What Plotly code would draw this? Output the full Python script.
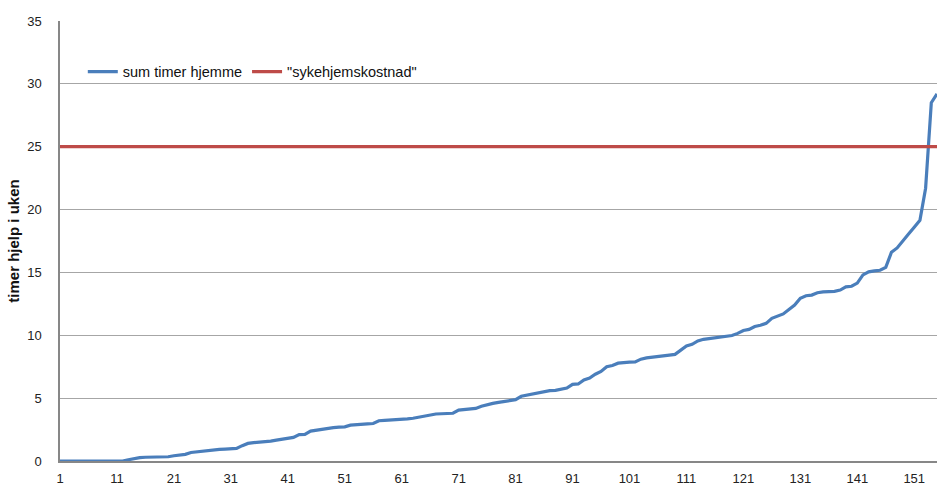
import plotly.graph_objects as go

# ---- data ----
person_index = list(range(1, 156))
sum_timer_hjemme = [
    0, 0, 0, 0, 0, 0, 0, 0, 0, 0,
    0, 0, 0.1, 0.2, 0.27, 0.3, 0.31, 0.32, 0.33, 0.34,
    0.42, 0.48, 0.53, 0.68, 0.74, 0.77, 0.84, 0.9, 0.92, 0.95,
    0.98, 1.0, 1.22, 1.4, 1.46, 1.48, 1.52, 1.58, 1.66, 1.75,
    1.83, 1.88, 2.1, 2.12, 2.38, 2.45, 2.52, 2.62, 2.66, 2.69,
    2.72, 2.85, 2.9, 2.93, 2.96, 2.98, 3.2, 3.23, 3.25, 3.28,
    3.31, 3.35, 3.4, 3.5, 3.6, 3.7, 3.74, 3.76, 3.78, 3.8,
    4.05, 4.1, 4.13, 4.18, 4.35, 4.48, 4.58, 4.66, 4.75, 4.82,
    4.88, 5.15, 5.25, 5.32, 5.4, 5.55, 5.6, 5.62, 5.7, 5.8,
    6.1, 6.13, 6.45, 6.6, 6.9, 7.12, 7.5, 7.6, 7.78, 7.84,
    7.86, 7.88, 8.1, 8.2, 8.27, 8.33, 8.38, 8.42, 8.48, 8.85,
    9.15, 9.28, 9.55, 9.68, 9.74, 9.77, 9.8, 9.9, 9.98, 10.15,
    10.38, 10.47, 10.7, 10.8, 10.95, 11.35, 11.55, 11.7, 12.05, 12.4,
    12.95, 13.15, 13.2, 13.38, 13.45, 13.47, 13.5, 13.6, 13.85, 13.9,
    14.15, 14.8, 15.05, 15.12, 15.17, 15.4, 16.6, 16.95, 17.55, 18.05,
    18.6, 19.15, 21.7, 28.5, 29.2,
]
sykehjemskostnad_level = 25
sykehjemskostnad = [sykehjemskostnad_level] * len(person_index)
x_tickvals = list(range(1, 156, 10))
y_tickvals = [0, 5, 10, 15, 20, 25, 30, 35]

FONT = "Liberation Sans, Arial, sans-serif"

fig = go.Figure()
fig.add_trace(go.Scatter(
    x=person_index, y=sum_timer_hjemme, mode="lines",
    name="sum timer hjemme",
    line=dict(color="#4A7EBB", width=3.2),
))
fig.add_trace(go.Scatter(
    x=person_index, y=sykehjemskostnad, mode="lines",
    name='"sykehjemskostnad"',
    line=dict(color="#BE4B48", width=3.2),
))

fig.update_layout(
    width=937, height=486,
    margin=dict(l=60, r=0, t=21, b=25, autoexpand=False),
    paper_bgcolor="white", plot_bgcolor="white",
    font=dict(family=FONT, size=13, color="#222"),
    showlegend=True,
    legend=dict(
        orientation="h", x=0.026, y=0.885, xanchor="left", yanchor="middle",
        bgcolor="rgba(0,0,0,0)", font=dict(size=14.5, color="#111"),
        itemwidth=30, tracegroupgap=0,
    ),
    xaxis=dict(
        range=[1, 155], tickmode="array", tickvals=x_tickvals,
        showgrid=False, zeroline=False,
        showline=True, linecolor="#878787", linewidth=2,
        ticks="outside", ticklen=4, tickcolor="rgba(0,0,0,0)",
        tickfont=dict(size=13, color="#222"),
    ),
    yaxis=dict(
        range=[0, 35], tickmode="array", tickvals=y_tickvals,
        showgrid=True, gridcolor="#A6A6A6", gridwidth=1,
        zeroline=False,
        showline=True, linecolor="#878787", linewidth=1.5,
        ticks="outside", ticklen=14, tickcolor="rgba(0,0,0,0)",
        tickfont=dict(size=13, color="#222"),
        title=dict(text="<b>timer hjelp i uken</b>", font=dict(size=15, color="#111"), standoff=4),
    ),
)

fig.write_html(
    "out.html",
    config={"displayModeBar": False},
    post_script="document.body.style.margin='0';document.body.style.padding='0';"
                "document.body.style.overflow='hidden';",
)
